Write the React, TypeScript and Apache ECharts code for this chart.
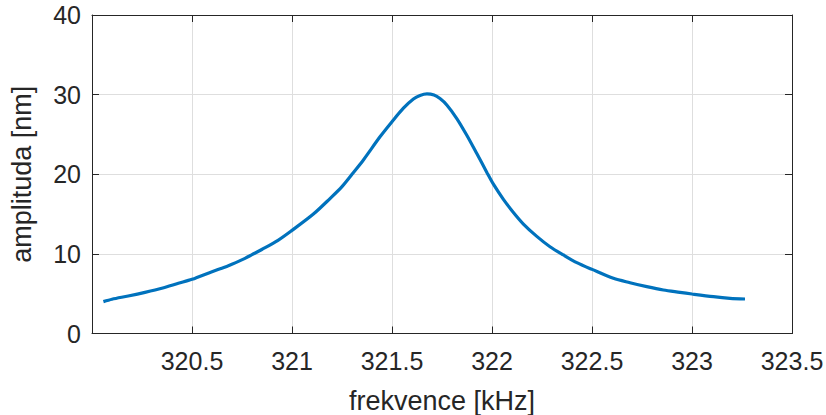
import React, { useEffect, useRef } from "react";
import * as echarts from "echarts";

const freqKHz = [
  320.057, 320.1, 320.181, 320.265, 320.349, 320.432, 320.5, 320.6, 320.682, 320.765,
  320.8, 320.849, 320.93, 321.0, 321.107, 321.19, 321.25, 321.3, 321.357, 321.44, 321.5,
  321.557, 321.607, 321.64, 321.675, 321.71, 321.74, 321.774, 321.824, 321.874, 321.924,
  321.975, 322.007, 322.057, 322.107, 322.157, 322.224, 322.29, 322.357, 322.424, 322.5,
  322.607, 322.69, 322.774, 322.857, 322.94, 323.0, 323.107, 323.19, 323.265,
];
const amplitudeNm = [
  4.0, 4.3, 4.71, 5.17, 5.68, 6.3, 6.8, 7.77, 8.52, 9.44,
  9.9, 10.55, 11.7, 12.95, 15.0, 16.95, 18.45, 20.0, 21.8, 24.7, 26.6,
  28.3, 29.45, 29.9, 30.1, 29.95, 29.5, 28.7, 27.0, 24.9, 22.6,
  20.2, 18.75, 16.85, 15.2, 13.75, 12.2, 10.9, 9.86, 8.9, 8.05,
  6.93, 6.38, 5.88, 5.46, 5.17, 4.96, 4.62, 4.42, 4.33,
];
const xLabel = "frekvence [kHz]";
const yLabel = "amplituda [nm]";

const AXIS = "#262626";
const FONT = "'Liberation Sans', Arial, Helvetica, sans-serif";

export default function App() {
  const ref = useRef<HTMLDivElement>(null);
  useEffect(() => {
    if (!ref.current) return;
    const chart = echarts.init(ref.current, undefined, { renderer: "svg" });
    const data = freqKHz.map((f, i) => [f, amplitudeNm[i]]);
    const boxAxis = {
      show: true,
      axisLine: { show: true, onZero: false, lineStyle: { color: AXIS, width: 1 } },
      axisTick: { show: true, inside: true, length: 7, lineStyle: { color: AXIS } },
      axisLabel: { show: false },
      splitLine: { show: false },
    };
    chart.setOption({
      animation: false,
      backgroundColor: "#ffffff",
      textStyle: { fontFamily: FONT },
      grid: {
        left: 92,
        right: 34,
        top: 15,
        bottom: 81.5,
        containLabel: false,
        outerBoundsMode: "none",
      },
      xAxis: [
        {
          type: "value",
          min: 320,
          max: 323.5,
          interval: 0.5,
          position: "bottom",
          name: xLabel,
          nameLocation: "middle",
          nameGap: 53,
          nameTextStyle: { fontSize: 27, color: AXIS, fontFamily: FONT, lineHeight: 28 },
          axisLine: { show: true, onZero: false, lineStyle: { color: AXIS, width: 1 } },
          axisTick: { show: true, inside: true, length: 7, lineStyle: { color: AXIS } },
          axisLabel: {
            fontSize: 25,
            color: AXIS,
            margin: 15,
            fontFamily: FONT,
            showMinLabel: true,
            showMaxLabel: true,
            formatter: (v: number) => (Math.abs(v - 320) < 1e-9 ? "" : String(+v.toFixed(1))),
          },
          splitLine: { show: true, lineStyle: { color: "#dedede", width: 1 } },
        },
        {
          type: "value",
          min: 320,
          max: 323.5,
          interval: 0.5,
          position: "top",
          ...boxAxis,
        },
      ],
      yAxis: [
        {
          type: "value",
          min: 0,
          max: 40,
          interval: 10,
          position: "left",
          name: yLabel,
          nameLocation: "middle",
          nameGap: 57,
          nameRotate: 90,
          nameTextStyle: { fontSize: 27, color: AXIS, fontFamily: FONT },
          axisLine: { show: true, onZero: false, lineStyle: { color: AXIS, width: 1 } },
          axisTick: { show: true, inside: true, length: 7, lineStyle: { color: AXIS } },
          axisLabel: { fontSize: 25, color: AXIS, margin: 11, fontFamily: FONT },
          splitLine: { show: true, lineStyle: { color: "#dedede", width: 1 } },
        },
        {
          type: "value",
          min: 0,
          max: 40,
          interval: 10,
          position: "right",
          ...boxAxis,
        },
      ],
      series: [
        {
          type: "line",
          xAxisIndex: 0,
          yAxisIndex: 0,
          data,
          showSymbol: false,
          smooth: 0.3,
          lineStyle: { color: "#0072BD", width: 3.2 },
          itemStyle: { color: "#0072BD" },
        },
      ],
    });
    return () => chart.dispose();
  }, []);
  return (
    <div
      ref={ref}
      style={{ width: 826, height: 415, position: "absolute", left: 0, top: 0, overflow: "hidden" }}
    />
  );
}
